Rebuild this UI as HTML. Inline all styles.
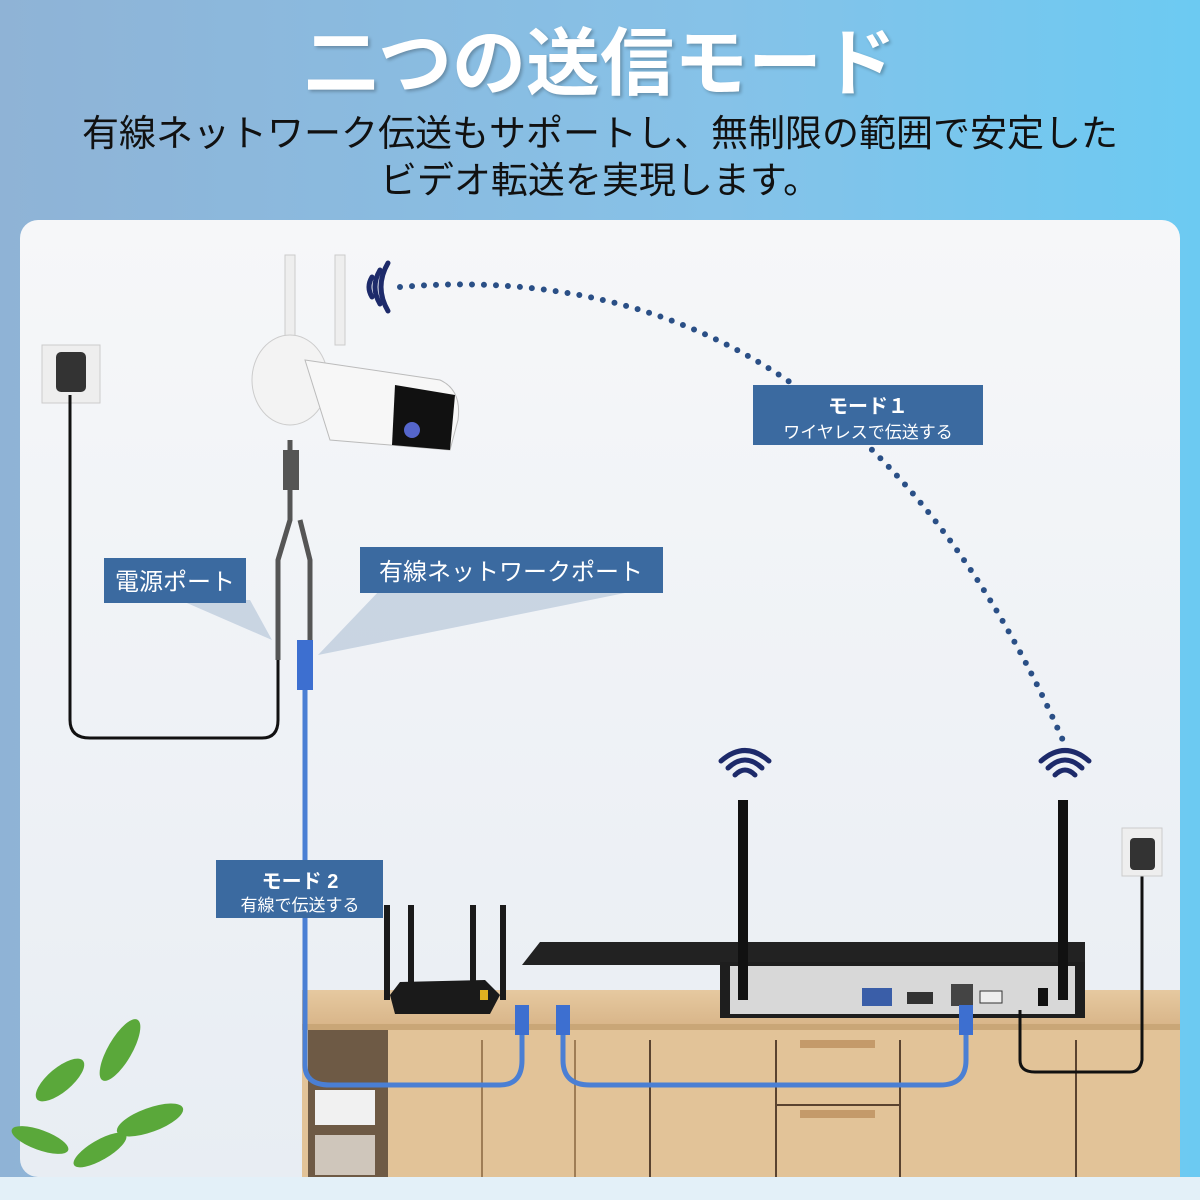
<!DOCTYPE html>
<html><head><meta charset="utf-8"><style>
html,body{margin:0;padding:0;width:1200px;height:1200px;overflow:hidden}
body{background:linear-gradient(90deg,#8fb3d6 0%,#86c2e8 60%,#6ccaf2 100%);font-family:"Liberation Sans","Noto Sans CJK JP",sans-serif;position:relative}
.t{position:absolute;left:0;width:1200px;text-align:center}
</style></head><body>
<div class="t" style="top:4px;font-size:74px;font-weight:bold;color:#fff;letter-spacing:0px;text-shadow:2px 2px 3px rgba(0,0,0,.25)">二つの送信モード</div>
<div class="t" style="top:110px;font-size:37px;color:#111;line-height:47px">有線ネットワーク伝送もサポートし、無制限の範囲で安定した<br>ビデオ転送を実現します。</div>
<svg width="1200" height="1200" style="position:absolute;left:0;top:0">
<defs>
<linearGradient id="pn" x1="0" y1="0" x2="0" y2="1"><stop offset="0" stop-color="#f6f7f9"/><stop offset="1" stop-color="#e8edf3"/></linearGradient>
<linearGradient id="wd" x1="0" y1="0" x2="0" y2="1"><stop offset="0" stop-color="#e6c9a0"/><stop offset="1" stop-color="#d9b68a"/></linearGradient>
</defs>
<rect x="20" y="220" width="1160" height="957" rx="18" fill="url(#pn)"/>
<rect x="0" y="1177" width="1200" height="23" fill="#e3f0f8"/>
<!-- cabinet -->
<rect x="302" y="1010" width="878" height="167" fill="#e2c398"/>
<rect x="302" y="990" width="878" height="34" fill="url(#wd)"/>
<rect x="302" y="1024" width="878" height="6" fill="#c9a677"/>
<rect x="308" y="1030" width="80" height="147" fill="#6e5a45"/>
<rect x="315" y="1090" width="60" height="35" fill="#f1f1f1"/>
<rect x="315" y="1135" width="60" height="40" fill="#cfc6bb"/>
<line x1="482" y1="1040" x2="482" y2="1177" stroke="#9f7d55" stroke-width="2"/>
<line x1="575" y1="1040" x2="575" y2="1177" stroke="#9f7d55" stroke-width="2"/>
<line x1="776" y1="1040" x2="776" y2="1177" stroke="#5a4330" stroke-width="2"/>
<line x1="650" y1="1040" x2="650" y2="1177" stroke="#5a4330" stroke-width="2"/>
<line x1="900" y1="1040" x2="900" y2="1177" stroke="#5a4330" stroke-width="2"/>
<line x1="1076" y1="1040" x2="1076" y2="1177" stroke="#5a4330" stroke-width="2"/>
<line x1="776" y1="1105" x2="900" y2="1105" stroke="#5a4330" stroke-width="2"/>
<rect x="800" y="1040" width="75" height="8" fill="#c49a6a"/>
<rect x="800" y="1110" width="75" height="8" fill="#c49a6a"/>
<!-- router -->
<g fill="#1a1a1a">
<rect x="384" y="905" width="6" height="95"/><rect x="408" y="905" width="6" height="85"/><rect x="470" y="905" width="6" height="85"/><rect x="500" y="905" width="6" height="95"/>
<path d="M390 995 L400 982 L485 980 L500 995 L490 1014 L395 1014 Z"/>
</g>
<rect x="480" y="990" width="8" height="10" fill="#e0b020"/>
<!-- NVR -->
<path d="M522 965 L540 942 L1085 942 L1085 965 Z" fill="#222"/>
<rect x="720" y="962" width="365" height="56" fill="#1e1e1e"/>
<rect x="730" y="966" width="345" height="48" fill="#d8d8d8"/>
<rect x="862" y="988" width="30" height="18" fill="#3a5ea8"/>
<rect x="907" y="992" width="26" height="12" fill="#333"/>
<rect x="951" y="984" width="22" height="22" fill="#444"/>
<rect x="980" y="991" width="22" height="12" fill="#eee" stroke="#333"/>
<rect x="1038" y="988" width="10" height="18" fill="#111"/>
<rect x="738" y="800" width="10" height="200" fill="#111"/>
<rect x="1058" y="800" width="10" height="200" fill="#111"/>
<!-- cables -->
<g fill="none" stroke="#4a7fd4" stroke-width="5">
<path d="M305 690 L305 1065 Q305 1085 330 1085 L500 1085 Q522 1085 522 1060 L522 1005"/>
<path d="M563 1005 L563 1060 Q563 1085 590 1085 L940 1085 Q966 1085 966 1060 L966 1005"/>
</g>
<g fill="#3d6fd0"><rect x="515" y="1005" width="14" height="30"/><rect x="556" y="1005" width="14" height="30"/><rect x="959" y="1005" width="14" height="30"/><rect x="297" y="640" width="16" height="50"/></g>
<path d="M1020 1010 L1020 1060 Q1020 1072 1035 1072 L1130 1072 Q1140 1072 1142 1060 L1142 860" fill="none" stroke="#111" stroke-width="3"/>
<rect x="1122" y="828" width="40" height="48" fill="#eee" stroke="#ccc"/><rect x="1130" y="838" width="25" height="32" rx="4" fill="#333"/>
<!-- left power -->
<rect x="42" y="345" width="58" height="58" fill="#eee" stroke="#ccc"/><rect x="56" y="352" width="30" height="40" rx="5" fill="#333"/>
<path d="M70 395 L70 720 Q70 738 90 738 L262 738 Q278 738 278 720 L278 640" fill="none" stroke="#111" stroke-width="3"/>
<path d="M290 440 L290 520 L278 560 L278 660 M300 520 L310 560 L310 640" fill="none" stroke="#555" stroke-width="5"/>
<rect x="283" y="450" width="16" height="40" fill="#555"/>
<!-- camera -->
<rect x="285" y="255" width="10" height="90" fill="#eee" stroke="#ccc"/><rect x="335" y="255" width="10" height="90" fill="#eee" stroke="#ccc"/>
<ellipse cx="290" cy="380" rx="38" ry="45" fill="#f3f3f3" stroke="#ccc"/>
<path d="M305 360 L440 380 Q462 390 458 420 L450 450 L330 440 Z" fill="#f7f7f7" stroke="#bbb"/>
<path d="M395 385 L455 395 L450 450 L392 445 Z" fill="#111"/>
<circle cx="412" cy="430" r="8" fill="#5566cc"/>
<!-- wifi icons -->
<g fill="none" stroke="#1d2a6a" stroke-width="5" stroke-linecap="round">
<path d="M372 277 Q366 287 372 297"/><path d="M380 270 Q370 287 380 304"/><path d="M388 263 Q374 287 388 311"/>
</g>
<g fill="none" stroke="#1d2a6a" stroke-width="5" stroke-linecap="round">
<path d="M735 775 Q745 765 755 775"/><path d="M728 768 Q745 752 762 768"/><path d="M721 761 Q745 740 769 761"/>
<path d="M1055 775 Q1065 765 1075 775"/><path d="M1048 768 Q1065 752 1082 768"/><path d="M1041 761 Q1065 740 1089 761"/>
</g>
<path d="M400 287 Q850 250 1065 745" fill="none" stroke="#2a4f86" stroke-width="6" stroke-linecap="round" stroke-dasharray="0 12"/>
<!-- spotlight triangles -->
<path d="M180 600 L250 600 L272 640 Z" fill="#b8c8da" opacity=".7"/>
<path d="M380 590 L640 590 L318 655 Z" fill="#b8c8da" opacity=".7"/>
<!-- labels -->
<rect x="753" y="385" width="230" height="60" fill="#3b6aa0"/>
<text x="868" y="413" fill="#fff" font-size="20" font-weight="bold" text-anchor="middle">モード１</text>
<text x="868" y="438" fill="#fff" font-size="17" text-anchor="middle">ワイヤレスで伝送する</text>
<rect x="104" y="558" width="142" height="45" fill="#3b6aa0"/>
<text x="175" y="590" fill="#fff" font-size="24" text-anchor="middle">電源ポート</text>
<rect x="360" y="547" width="303" height="46" fill="#3b6aa0"/>
<text x="511" y="580" fill="#fff" font-size="24" text-anchor="middle">有線ネットワークポート</text>
<rect x="216" y="860" width="167" height="58" fill="#3b6aa0"/>
<text x="300" y="888" fill="#fff" font-size="20" font-weight="bold" text-anchor="middle">モード 2</text>
<text x="300" y="911" fill="#fff" font-size="17" text-anchor="middle">有線で伝送する</text>
<!-- plant -->
<g fill="#5aa83a"><ellipse cx="60" cy="1080" rx="30" ry="12" transform="rotate(-40 60 1080)"/><ellipse cx="120" cy="1050" rx="35" ry="12" transform="rotate(-60 120 1050)"/><ellipse cx="150" cy="1120" rx="35" ry="12" transform="rotate(-20 150 1120)"/><ellipse cx="40" cy="1140" rx="30" ry="10" transform="rotate(20 40 1140)"/><ellipse cx="100" cy="1150" rx="30" ry="10" transform="rotate(-30 100 1150)"/></g>
</svg>
</body></html>
